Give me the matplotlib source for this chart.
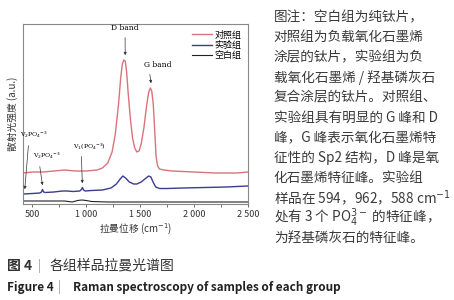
"""Raman spectra of the three sample groups (Figure 4)."""

import matplotlib
matplotlib.use("Agg")
import matplotlib.pyplot as plt

plt.rcParams["font.family"] = ["Noto Sans CJK SC", "DejaVu Sans"]

# raman shift (cm-1) / intensity (a.u.)
ctrl_x = [415, 500, 600, 700, 800, 900, 1000, 1100, 1150, 1200, 1240, 1270,
          1300, 1320, 1335, 1350, 1362, 1375, 1390, 1410, 1430, 1450, 1470,
          1490, 1510, 1535, 1560, 1580, 1595, 1608, 1622, 1635, 1648, 1662,
          1680, 1720, 1800, 2000, 2200, 2400, 2500]
ctrl_y = [31, 32, 32, 33, 34, 33, 33, 34, 36, 41, 52, 70,
          100, 126, 140, 144, 143, 132, 110, 85, 66, 56, 52,
          53, 60, 76, 98, 112, 116, 113, 100, 75, 48, 38,
          35, 34, 33, 32, 31, 31, 32]

exp_x = [415, 500, 570, 585, 594, 605, 620, 700, 780, 820, 880, 940, 955,
         965, 975, 990, 1050, 1150, 1230, 1280, 1315, 1340, 1365, 1400,
         1440, 1470, 1510, 1550, 1580, 1600, 1620, 1645, 1680, 1750, 1900,
         2100, 2300, 2500]
exp_y = [10, 10.5, 11, 12, 14.5, 12, 11.5, 12, 13, 13, 12.5, 13, 14.5,
         16.5, 14, 13, 13.5, 14, 16, 20, 25, 28, 26, 22,
         20, 20, 22, 25.5, 28, 27, 22, 17, 15.5, 15.5, 16,
         16.5, 17, 18]

blank_x = [415, 600, 800, 870, 920, 960, 1000, 1050, 1200, 1600, 2000, 2500]
blank_y = [3, 3, 3, 2, 3.5, 4, 3.5, 2.5, 2, 2, 2, 2]

tick_pos = [500, 1000, 1500, 2000, 2500]
tick_labels = ["500", "1 000", "1 500", "2 000", "2 500"]

note_lines = [
    "图注：空白组为纯钛片，",
    "对照组为负载氧化石墨烯",
    "涂层的钛片，实验组为负",
    "载氧化石墨烯 / 羟基磷灰石",
    "复合涂层的钛片。对照组、",
    "实验组具有明显的 G 峰和 D",
    "峰，G 峰表示氧化石墨烯特",
    "征性的 Sp2 结构，D 峰是氧",
    "化石墨烯特征峰。实验组",
    "样品在 594，962，588 cm$^{-1}$",
    "处有 3 个 PO$_4^{3-}$ 的特征峰，",
    "为羟基磷灰石的特征峰。",
]

fig = plt.figure(figsize=(4.54, 3.0), dpi=100)
ax = fig.add_axes([0.051, 0.32, 0.495, 0.60])

ax.plot(ctrl_x, ctrl_y, color="#d9737c", lw=1.0, label="对照组")
ax.plot(exp_x, exp_y, color="#3b3b8f", lw=1.0, label="实验组")
ax.plot(blank_x, blank_y, color="#222222", lw=0.8, label="空白组")

ax.set_xlim(415, 2500)
ax.set_ylim(0, 180)
ax.set_yticks([])
ax.set_xticks(tick_pos, tick_labels)
ax.set_xticks([750, 1250, 1750, 2250], minor=True)
ax.tick_params(axis="x", labelsize=6.5, length=2.5, width=0.6,
               colors="#555555", labelcolor="#333333", pad=2)
ax.tick_params(axis="x", which="minor", length=2, width=0.6, colors="#555555")
for sp in ax.spines.values():
    sp.set_color("#888888")
    sp.set_linewidth(0.8)

ax.set_xlabel("拉曼位移 (cm$^{-1}$)", fontsize=7, color="#333333", labelpad=2)
ax.set_ylabel("散射光强度 (a.u.)", fontsize=7, color="#333333", labelpad=4)

leg = ax.legend(loc="upper right", fontsize=6.5, frameon=False,
                handlelength=2.2, handletextpad=0.3, labelspacing=0.15,
                borderaxespad=0.3)

arrow = dict(arrowstyle="-|>", color="#333333", lw=0.5, mutation_scale=4)
ax.annotate("D band", xy=(1362, 146), xytext=(1360, 176), ha="center",
            va="center", fontsize=5.5, family="DejaVu Serif",
            arrowprops=arrow)
ax.annotate("G band", xy=(1605, 118), xytext=(1660, 139), ha="center",
            va="center", fontsize=5.5, family="DejaVu Serif",
            arrowprops=dict(arrow, relpos=(0.2, 0)))
ax.annotate("V$_2$PO$_4$$^{-3}$", xy=(428, 12), xytext=(520, 69),
            ha="center", va="center", fontsize=4.5, family="DejaVu Serif",
            arrowprops=dict(arrow, relpos=(0.3, 0)))
ax.annotate("V$_2$PO$_4$$^{-3}$", xy=(598, 16), xytext=(640, 48),
            ha="center", va="center", fontsize=4.5, family="DejaVu Serif",
            arrowprops=dict(arrow, relpos=(0.2, 0)))
ax.annotate("V$_1$(PO$_4$$^{-3}$)", xy=(965, 18), xytext=(1030, 58),
            ha="center", va="center", fontsize=4.5, family="DejaVu Serif",
            arrowprops=dict(arrow, relpos=(0.25, 0)))

for i, line in enumerate(note_lines):
    fig.text(0.603, 1 - (17 + 20.1 * i) / 300, line, fontsize=9.8,
             color="#3a3a3a", va="center", ha="left")

fig.text(0.015, 1 - 266 / 300, "图 4", fontsize=10, color="#333333",
         va="center", fontweight="bold")
fig.text(0.083, 1 - 266 / 300, "|", fontsize=9, color="#999999", va="center")
fig.text(0.11, 1 - 266 / 300, "各组样品拉曼光谱图", fontsize=10,
         color="#333333", va="center")
fig.text(0.015, 1 - 287 / 300, "Figure 4", fontsize=8.5, color="#222222",
         va="center", fontweight="bold")
fig.text(0.128, 1 - 287 / 300, "|", fontsize=8.5, color="#999999",
         va="center")
fig.text(0.16, 1 - 287 / 300, "Raman spectroscopy of samples of each group",
         fontsize=8.5, color="#222222", va="center", fontweight="bold")

fig.savefig("out.png", dpi=100)
